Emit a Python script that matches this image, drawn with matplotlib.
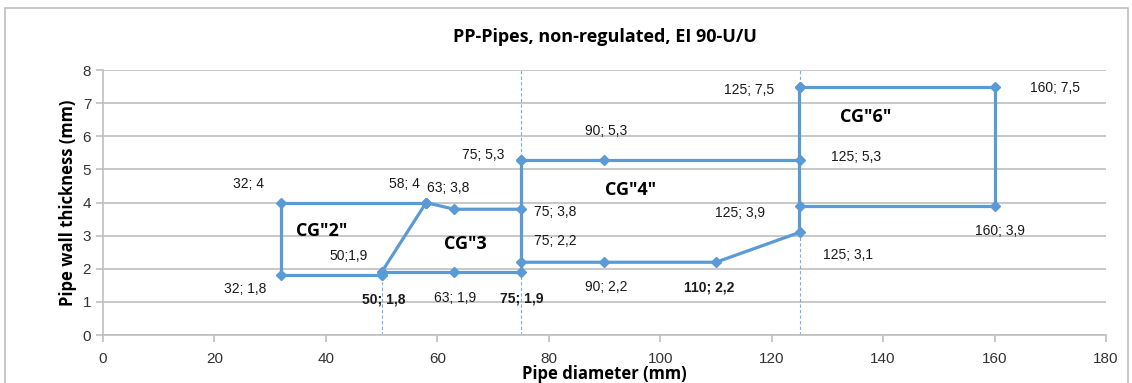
import matplotlib.pyplot as plt
from matplotlib.patches import Rectangle

# Polylines of the classification boxes (pipe diameter, wall thickness)
cg2_x = [50, 32, 32, 58]
cg2_y = [1.8, 1.8, 4, 4]
cg3_top_x = [58, 63, 75]
cg3_top_y = [4, 3.8, 3.8]
cg3_bot_x = [50, 50, 58]
cg3_bot_y = [1.8, 1.9, 4]
cg3_base_x = [50, 63, 75, 75]
cg3_base_y = [1.9, 1.9, 1.9, 5.3]
cg4_top_x = [75, 90, 125]
cg4_top_y = [5.3, 5.3, 5.3]
cg4_bot_x = [75, 90, 110, 125, 125]
cg4_bot_y = [2.2, 2.2, 2.2, 3.1, 7.5]
cg6_x = [125, 160, 160, 125]
cg6_y = [7.5, 7.5, 3.9, 3.9]

# Labelled points and label offsets in pixels
pts_x = [32, 58, 63, 75, 90, 125, 160, 125, 75, 125, 160, 75, 125, 50, 32, 50, 63, 75, 90, 110]
pts_y = [4, 4, 3.8, 5.3, 5.3, 7.5, 7.5, 5.3, 3.8, 3.9, 3.9, 2.2, 3.1, 1.9, 1.8, 1.8, 1.9, 1.9, 2.2, 2.2]
offsets = [(-33, 19), (-22, 19), (-6, 21), (-38, 5), (2, 29), (-50, -3), (60, -1),
           (57, 3), (34, -3), (-60, -7), (5, -25), (34, 21), (48, -23), (-33, 16),
           (-36, -14), (2, -24), (1, -26), (1, -26), (2, -25), (-7, -25)]
bold_pts = {(50, 1.8), (75, 1.9), (110, 2.2)}

groups = ['CG"2"', 'CG"3', 'CG"4"', 'CG"6"']
group_x = [39.3, 65, 94.6, 136.9]
group_y = [3.14, 2.75, 4.38, 6.58]

blue = '#5B9BD5'
lab_font = ['Liberation Sans', 'DejaVu Sans']
bold_font = ['Open Sans', 'DejaVu Sans']

fig = plt.figure(figsize=(11.32, 3.83), dpi=100)
ax = fig.add_axes([0.091, 0.125, 0.886, 0.692])
fig.patches.append(Rectangle((0.0045, -0.1), 0.992, 1.079, transform=fig.transFigure,
                             fill=False, edgecolor='#BFBFBF', linewidth=1.2))

# dashed guides
ax.plot([50, 50], [0, 1.8], color=blue, lw=0.8, ls=(0, (3, 2)), alpha=0.8, zorder=2)
ax.plot([75, 75], [0, 8], color=blue, lw=0.8, ls=(0, (3, 2)), alpha=0.8, zorder=2)
ax.plot([125, 125], [0, 8], color=blue, lw=0.8, ls=(0, (3, 2)), alpha=0.8, zorder=2)

for xs, ys in [(cg2_x, cg2_y), (cg3_top_x, cg3_top_y), (cg3_bot_x, cg3_bot_y),
               (cg3_base_x, cg3_base_y), (cg4_top_x, cg4_top_y), (cg4_bot_x, cg4_bot_y),
               (cg6_x, cg6_y)]:
    ax.plot(xs, ys, color=blue, lw=2.3, marker='D', ms=5, zorder=3)

for x, y, (dx, dy) in zip(pts_x, pts_y, offsets):
    txt = f'{x}; {y:g}'.replace('.', ',')
    if (x, y) == (50, 1.9):
        txt = txt.replace(' ', '')
    ax.annotate(txt, xy=(x, y), xytext=(dx, dy), textcoords='offset pixels',
                ha='center', va='center', fontsize=10, family=lab_font,
                fontweight='bold' if (x, y) in bold_pts else 'normal', color='#1a1a1a')

for g, gx, gy in zip(groups, group_x, group_y):
    ax.text(gx, gy, g, ha='center', va='center', fontsize=13, fontweight='bold', family=bold_font)

ax.set_xlim(0, 180)
ax.set_ylim(0, 8)
ax.set_xticks(range(0, 181, 20))
ax.set_yticks(range(0, 9))
ax.grid(axis='y', color='#BFBFBF', lw=1.2)
ax.set_axisbelow(True)
for s in ['top', 'right']:
    ax.spines[s].set_visible(False)
ax.spines['left'].set_color('#BFBFBF')
ax.spines['bottom'].set_color('#BFBFBF')
ax.spines['left'].set_linewidth(1.2)
ax.spines['bottom'].set_linewidth(1.2)
ax.tick_params(axis='both', colors='#BFBFBF', labelcolor='#333333', labelsize=11, length=5, width=1.2)
for lab in ax.get_xticklabels() + ax.get_yticklabels():
    lab.set_family(lab_font)
ax.tick_params(axis='x', pad=7)

ax.set_title('PP-Pipes, non-regulated, EI 90-U/U', fontsize=13, fontweight='bold', family=bold_font, pad=20)
ax.set_xlabel('Pipe diameter (mm)', fontsize=12, fontweight='bold', family=bold_font, labelpad=-0.5)
ax.set_ylabel('Pipe wall thickness (mm)', fontsize=12, fontweight='bold', family=bold_font, labelpad=4)

fig.savefig('out.png', dpi=100)
